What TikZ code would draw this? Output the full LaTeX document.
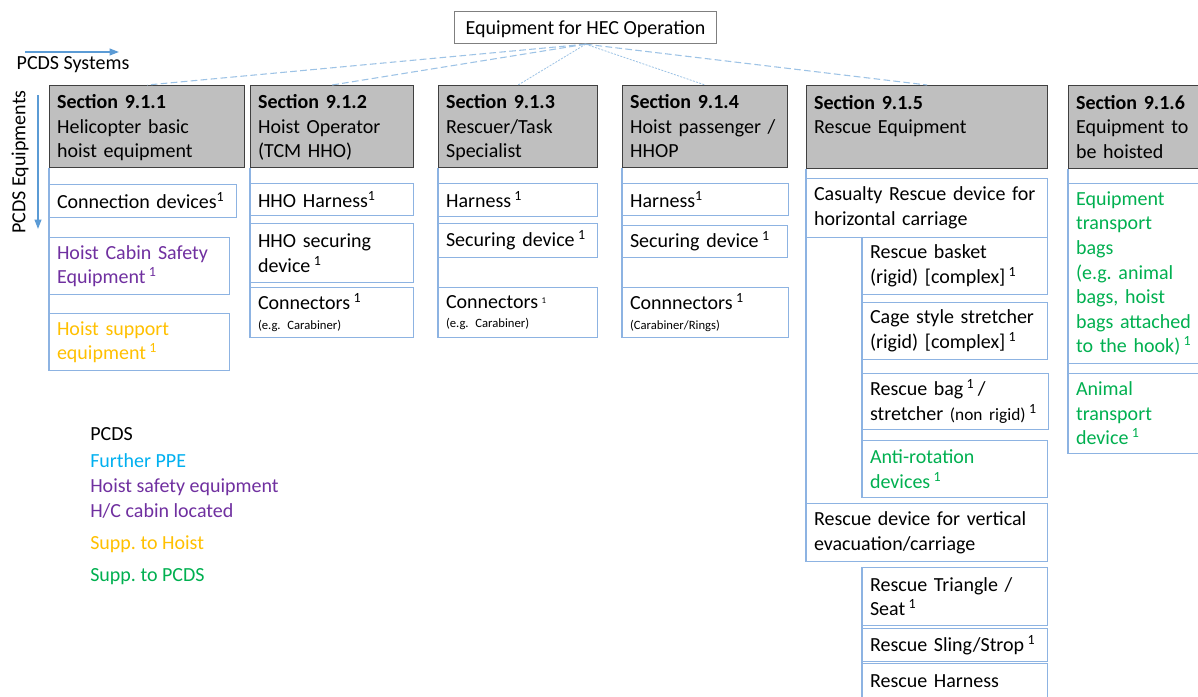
\documentclass[tikz,border=0pt]{standalone}
\usepackage{fontspec}
\setmainfont{Carlito}
\usetikzlibrary{arrows.meta}

\definecolor{boxline}{HTML}{8DB3E2}
\definecolor{linkblue}{HTML}{9DC3E6}
\definecolor{arrowblue}{HTML}{5B9BD5}
\definecolor{headfill}{HTML}{BFBFBF}
\definecolor{headline}{HTML}{404040}
\definecolor{topline}{HTML}{7F7F7F}
\definecolor{ppe}{HTML}{00B0F0}
\definecolor{hoistsafe}{HTML}{7030A0}
\definecolor{supphoist}{HTML}{FFC000}
\definecolor{supppcds}{HTML}{00B050}

\newcommand\bodyfont{\fontsize{15pt}{18.4pt}\selectfont\frenchspacing}
\newcommand\fnone{\textsuperscript{1}}
\newcommand\notefont{\fontsize{9.5pt}{11pt}\selectfont}
\newcommand\headstrut{\rule{0pt}{15.5pt}}

\begin{document}
\begin{tikzpicture}[x=0.75pt,y=-0.75pt,
  every node/.style={font=\bodyfont},
  box/.style 2 args={draw=boxline, line width=0.8pt, anchor=north west,
    minimum width={#1*0.75pt}, minimum height={#2*0.75pt},
    text width={(#1-15)*0.75pt}, inner xsep=5.6pt, inner ysep=0pt, align=left},
  head/.style 2 args={box={#1}{#2}, fill=headfill, draw=headline, line width=0.9pt},
  link/.style={draw=linkblue, line width=0.8pt, dash pattern=on 5pt off 2.5pt},
  thinlink/.style={draw=linkblue, line width=0.6pt, dash pattern=on 1.5pt off 1pt},
  spine/.style={draw=boxline, line width=0.8pt},
  axis/.style={draw=arrowblue, line width=1.2pt, -{Triangle[length=7pt,width=5pt]}},
  legend/.style={anchor=west, inner sep=0pt}]

\clip (0,0) rectangle (1198,696);
\fill[white] (0,0) rectangle (1198,696);

% root
\node[draw=topline, line width=0.9pt, anchor=north west, minimum width={262*0.75pt},
  minimum height={32*0.75pt}, inner sep=0pt, text depth=0pt] (top) at (454,11) {Equipment for HEC Operation};

% axes
\coordinate (sysA) at (25,52);
\coordinate (sysB) at (119,52);
\draw[axis] (sysA) -- (sysB);
\node (systxt) at (73,65) {PCDS Systems};
\coordinate (equA) at (38,95);
\coordinate (equB) at (38,229);
\draw[axis] (equA) -- (equB);
\node[rotate=90] (equtxt) at (20,162) {PCDS Equipments};

% column 1
\node[head={195}{82}] (h1) at (49,85) {\headstrut\textbf{Section 9.1.1}\\Helicopter basic\\hoist equipment\strut};
\node[box={187}{33}] (c11) at (49,184) {Connection devices\fnone};
\node[box={180}{57}, text=hoistsafe] (c12) at (49,237) {Hoist Cabin Safety\\Equipment\,\fnone};
\node[box={180}{57}, text=supphoist] (c13) at (49,313) {Hoist support\\equipment\,\fnone};

% column 2
\node[head={163}{82}] (h2) at (250,85) {\headstrut\textbf{Section 9.1.2}\\Hoist Operator\\(TCM HHO)\strut};
\node[box={163}{32}] (c21) at (250,183) {HHO Harness\fnone};
\node[box={163}{59}] (c22) at (250,223) {HHO securing\\device\,\fnone};
\node[box={163}{50}] (c23) at (250,287) {Connectors\,\fnone\\[-4pt]{\notefont (e.g. Carabiner)}};

% column 3
\node[head={159}{82}] (h3) at (438,85) {\headstrut\textbf{Section 9.1.3}\\Rescuer/Task\\Specialist\strut};
\node[box={159}{33}] (c31) at (438,183) {Harness\,\fnone};
\node[box={159}{34}] (c32) at (438,223) {Securing device\,\fnone};
\node[box={159}{50}] (c33) at (438,287) {Connectors\,{\notefont\textsuperscript{1}}\\[-4pt]{\notefont (e.g. Carabiner)}};

% column 4
\node[head={165}{82}] (h4) at (622,85) {\headstrut\textbf{Section 9.1.4}\\Hoist passenger /\\HHOP\strut};
\node[box={166}{32}] (c41) at (622,183) {Harness\fnone};
\node[box={165}{32}] (c42) at (622,225) {Securing device\,\fnone};
\node[box={166}{50}] (c43) at (622,287) {Connnectors\,\fnone\\[-4pt]{\notefont (Carabiner/Rings)}};

% column 5
\node[head={241}{83}] (h5) at (806,85) {\headstrut\textbf{Section 9.1.5}\\Rescue Equipment\\\strut};
\node[box={241}{59}] (c51) at (806,178) {Casualty Rescue device for\\horizontal carriage};
\node[box={185}{57}] (c52) at (862,237) {Rescue basket\\(rigid) [complex]\,\fnone};
\node[box={185}{57}] (c53) at (862,302) {Cage style stretcher\\(rigid) [complex]\,\fnone};
\node[box={186}{56}] (c54) at (862,373) {Rescue bag\,\fnone\,/\\stretcher {\fontsize{13pt}{15pt}\selectfont(non rigid)}\,\fnone};
\node[box={185}{57}, text=supppcds] (c55) at (862,440) {Anti-rotation\\devices\,\fnone};
\node[box={241}{58}] (c56) at (806,503) {Rescue device for vertical\\evacuation/carriage};
\node[box={185}{58}] (c57) at (862,567) {Rescue Triangle /\\Seat\,\fnone};
\node[box={185}{33}] (c58) at (862,628) {Rescue Sling/Strop\,\fnone};
\node[box={185}{35}] (c59) at (862,663) {Rescue Harness};

% column 6
\node[head={150}{83}] (h6) at (1068,85) {\headstrut\textbf{Section 9.1.6}\\Equipment to\\be hoisted\strut};
\node[box={150}{180}, text=supppcds] (c61) at (1068,183) {Equipment\\transport\\bags\\(e.g. animal\\bags, hoist\\bags attached\\to the hook)\,\fnone};
\node[box={150}{80}, text=supppcds] (c62) at (1068,373) {Animal\\transport\\device\,\fnone};

% spines along the left edge of each column
\draw[spine] (h1.south west) -- (c13.south west);
\draw[spine] (h2.south west) -- (c23.south west);
\draw[spine] (h3.south west) -- (c33.south west);
\draw[spine] (h4.south west) -- (c43.south west);
\draw[spine] (h5.south west) -- (c56.south west);
\draw[spine] (c52.north west) -- (c55.south west);
\draw[spine] (c57.north west) -- (c59.south west);
\draw[spine] (h6.south west) -- (c62.south west);

% links from the root to the sections
\draw[link] (top.south) -- (h1.north);
\draw[link] (top.south) -- (h2.north);
\draw[thinlink] (top.south) -- (h3.north);
\draw[thinlink] (top.south) -- (h4.north);
\draw[link] (top.south) -- (h5.north);

% colour legend
\node[legend] (lg1) at (90,434) {PCDS};
\node[legend, text=ppe] (lg2) at (90,461) {Further PPE};
\node[legend, text=hoistsafe] (lg3) at (90,487) {Hoist safety equipment};
\node[legend, text=hoistsafe] (lg4) at (90,511) {H/C cabin located};
\node[legend, text=supphoist] (lg5) at (90,544) {Supp. to Hoist};
\node[legend, text=supppcds] (lg6) at (90,577) {Supp. to PCDS};
\end{tikzpicture}
\end{document}
